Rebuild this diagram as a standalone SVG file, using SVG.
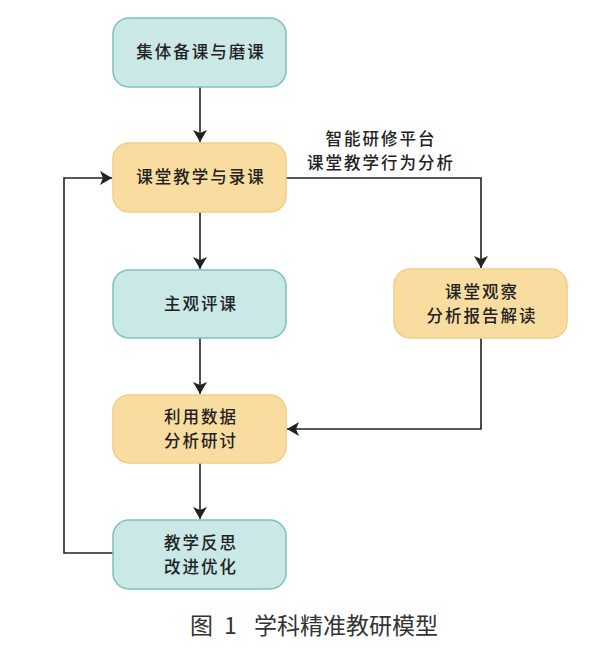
<svg xmlns="http://www.w3.org/2000/svg" width="600" height="667" viewBox="0 0 600 667">
<style>
.teal{fill:#c9e8e6;stroke:#7cc0bd;stroke-width:1.5}
.yel{fill:#f9dda0;stroke:#f2cd86;stroke-width:1.5}
.t{font-family:"Noto Sans CJK SC","Noto Sans",sans-serif;font-size:16.5px;font-weight:500;fill:#222;text-anchor:middle;letter-spacing:2px}
.cap{font-family:"Noto Sans CJK SC","Noto Sans",sans-serif;font-size:23px;fill:#333}
.c{fill:none;stroke:#222;stroke-width:1.6}
</style>
<defs>
<marker id="ah" viewBox="0 0 12 14" refX="12" refY="7" markerWidth="12" markerHeight="14" markerUnits="userSpaceOnUse" orient="auto">
<path d="M0,0 L12,7 L0,14 L3,7 Z" fill="#222"/>
</marker>
</defs>
<rect width="600" height="667" fill="#fff"/>
<g id="connectors">
<path class="c" d="M200,87 V142" marker-end="url(#ah)"/>
<path class="c" d="M200,212 V269" marker-end="url(#ah)"/>
<path class="c" d="M200,338 V394" marker-end="url(#ah)"/>
<path class="c" d="M200,463 V519" marker-end="url(#ah)"/>
<path class="c" d="M286,178 H481 V268" marker-end="url(#ah)"/>
<path class="c" d="M481,338 V429 H287" marker-end="url(#ah)"/>
<path class="c" d="M113,553 H64 V178 H112" marker-end="url(#ah)"/>
<text class="t" x="381" y="145">智能研修平台</text>
<text class="t" x="381" y="169">课堂教学行为分析</text>
</g>
<g id="n1">
<rect class="teal" x="113" y="18" width="173" height="69" rx="16"/>
<text class="t" x="201" y="58">集体备课与磨课</text>
</g>
<g id="n2">
<rect class="yel" x="113" y="143" width="173" height="69" rx="16"/>
<text class="t" x="201" y="183">课堂教学与录课</text>
</g>
<g id="n3">
<rect class="teal" x="113" y="270" width="173" height="68" rx="16"/>
<text class="t" x="201" y="310">主观评课</text>
</g>
<g id="n4">
<rect class="yel" x="394" y="269" width="173" height="69" rx="16"/>
<text class="t" x="482" y="298">课堂观察</text>
<text class="t" x="482" y="322">分析报告解读</text>
</g>
<g id="n5">
<rect class="yel" x="113" y="395" width="173" height="68" rx="16"/>
<text class="t" x="201" y="423">利用数据</text>
<text class="t" x="201" y="447">分析研讨</text>
</g>
<g id="n6">
<rect class="teal" x="113" y="520" width="173" height="69" rx="16"/>
<text class="t" x="201" y="549">教学反思</text>
<text class="t" x="201" y="573">改进优化</text>
</g>
<text class="cap" x="190" y="634">图</text>
<text class="cap" x="224" y="634">1</text>
<text class="cap" x="254" y="634">学科精准教研模型</text>
</svg>
